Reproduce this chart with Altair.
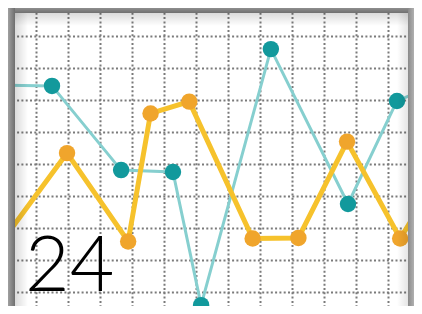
import altair as alt
import pandas as pd

# ---- data (grid units) ----
teal_x = [-1.2, 0.5, 2.66, 4.28, 5.16, 7.34, 9.75, 11.28, 12.5]
teal_y = [6.47, 6.44, 3.81, 3.75, -0.41, 7.59, 2.75, 5.97, 6.47]
orange_x = [-1.3, 0.97, 2.88, 3.58, 4.79, 6.77, 8.2, 9.72, 11.38, 12.5]
orange_y = [1.26, 4.34, 1.58, 5.58, 5.95, 1.67, 1.69, 4.70, 1.67, 3.5]
grid_x = list(range(12))
grid_y = list(range(9))
label = "24"

W, H = 406, 298

teal = pd.DataFrame({"x": teal_x, "y": teal_y})
orange = pd.DataFrame({"x": orange_x, "y": orange_y})
one = pd.DataFrame({"a": [0]})

xs = alt.Scale(domain=[-0.875, 11.8125], nice=False, zero=False)
ys = alt.Scale(domain=[-0.4375, 8.875], nice=False, zero=False)

X = alt.X("x:Q", scale=xs, axis=alt.Axis(values=grid_x, grid=True, labels=False, ticks=False,
                                          domain=False, title=None, gridDash=[2, 2.3],
                                          gridColor="#7a7a7a", gridWidth=2))
Y = alt.Y("y:Q", scale=ys, axis=alt.Axis(values=grid_y, grid=True, labels=False, ticks=False,
                                          domain=False, title=None, gridDash=[2, 2.3],
                                          gridColor="#7a7a7a", gridWidth=2))

teal_line = alt.Chart(teal).mark_line(color="#86cfcf", strokeWidth=3, clip=True).encode(x=X, y=Y)
orange_line = alt.Chart(orange).mark_line(color="#f6c22c", strokeWidth=5, clip=True).encode(x=X, y=Y)
orange_pts = alt.Chart(orange).mark_circle(color="#f0a52c", size=270, opacity=1, clip=True).encode(x=X, y=Y)
teal_pts = alt.Chart(teal).mark_circle(color="#12999c", size=270, opacity=1, clip=True).encode(x=X, y=Y)


def band(x1, x2, y1, y2, stops, horiz):
    g = alt.Gradient(gradient="linear",
                     stops=[alt.GradientStop(color=c, offset=o) for o, c in stops],
                     x1=0, x2=1 if horiz else 0, y1=0, y2=0 if horiz else 1)
    return alt.Chart(one).mark_rect(fill=g).encode(
        x=alt.value(x1), x2=alt.value(x2), y=alt.value(y1), y2=alt.value(y2))


shade = [(0, "rgba(0,0,0,0.14)"), (1, "rgba(0,0,0,0)")]
shade_r = [(0, "rgba(0,0,0,0)"), (1, "rgba(0,0,0,0.10)")]
frame = [
    band(0, W, 5, 18, shade, False),
    band(7, 20, 0, H, shade, True),
    band(389, 400, 0, H, shade_r, True),
    band(0, W, 0, 5, [(0, "#8e8e8e"), (1, "#707070")], False),
    band(0, 7, 0, H, [(0, "#a0a0a0"), (1, "#6e6e6e")], True),
    band(400, W, 0, H, [(0, "#8a8a8a"), (1, "#b0b0b0")], True),
]

text = alt.Chart(one).mark_text(text=label, font="Lato", fontWeight=300, fontSize=77,
                                align="left", baseline="alphabetic", color="#000000").encode(
    x=alt.value(17), y=alt.value(283))

chart = alt.layer(teal_line, orange_line, orange_pts, teal_pts, *frame, text).properties(
    width=W, height=H, padding=0, autosize="none", background="white"
).configure_view(strokeWidth=0)

chart.save("out.html", embed_options={"renderer": "svg", "actions": False})
